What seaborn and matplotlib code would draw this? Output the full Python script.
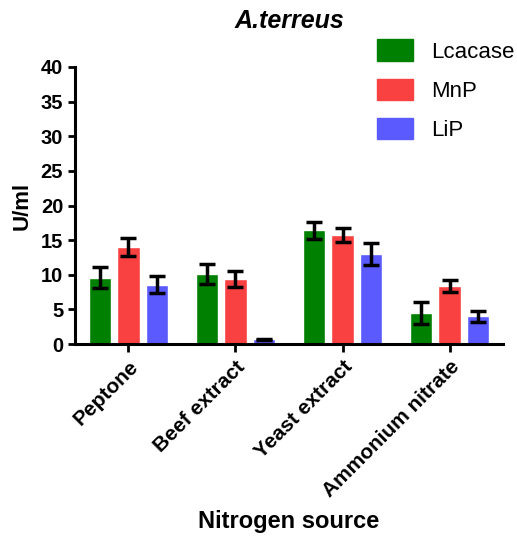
import numpy as np
import pandas as pd
import matplotlib
matplotlib.use("Agg")
import matplotlib.pyplot as plt
import seaborn as sns

# values
sources = ["Peptone", "Beef extract", "Yeast extract", "Ammonium nitrate"]
enzymes = ["Lcacase", "MnP", "LiP"]
lcacase = [9.6, 10.1, 16.4, 4.5]
mnp = [14.0, 9.4, 15.7, 8.4]
lip = [8.6, 0.7, 13.0, 4.0]
lcacase_err = [1.5, 1.4, 1.2, 1.6]
mnp_err = [1.3, 1.2, 1.0, 0.9]
lip_err = [1.2, 0.1, 1.6, 0.8]

colors = ["#008000", "#FA4141", "#5A5AFF"]

df = pd.DataFrame({
    "source": sources * 3,
    "enzyme": [e for e in enzymes for _ in sources],
    "value": lcacase + mnp + lip,
    "err": lcacase_err + mnp_err + lip_err,
})

sns.set_style("ticks")
plt.rcParams["font.family"] = ["Liberation Sans", "DejaVu Sans"]
plt.rcParams["text.color"] = "black"
plt.rcParams["axes.labelcolor"] = "black"
plt.rcParams["xtick.color"] = "black"
plt.rcParams["ytick.color"] = "black"

fig = plt.figure(figsize=(5.17, 5.36), dpi=100)
ax = fig.add_axes([0.145, 0.358, 0.828, 0.517])

sns.barplot(
    data=df, x="source", y="value", hue="enzyme",
    order=sources, hue_order=enzymes, palette=colors,
    errorbar=None, gap=0.2, ax=ax, legend=False,
    saturation=1,
)

# error bars placed on top of the bar centres
for patch, (_, row) in zip(ax.patches, df.iterrows()):
    x = patch.get_x() + patch.get_width() / 2
    ax.errorbar(x, row["value"], yerr=row["err"], fmt="none",
                ecolor="black", elinewidth=2.5, capsize=6, capthick=2.5, zorder=5)

ax.set_ylim(0, 40)
ax.set_xlim(-0.5, 3.5)
ax.set_yticks(np.arange(0, 41, 5))
ax.set_yticklabels([str(v) for v in range(0, 41, 5)], fontsize=14.5, fontweight="bold")
ax.set_xticks(range(len(sources)))
ax.set_xticklabels(sources, rotation=45, ha="right", rotation_mode="anchor",
                   fontsize=15, fontweight="bold")
ax.tick_params(axis="both", width=2, length=5, color="black")
ax.tick_params(axis="x", length=6)
for s in ["left", "bottom"]:
    ax.spines[s].set_linewidth(2.2)
    ax.spines[s].set_color("black")
sns.despine(ax=ax)

ax.set_xlabel("Nitrogen source", fontsize=17, fontweight="bold", labelpad=6)
ax.set_ylabel("U/ml", fontsize=16, fontweight="bold", labelpad=6)
ax.set_title("A.terreus", fontsize=18, fontweight="bold", style="italic", pad=28)

handles = [plt.Rectangle((0, 0), 1, 1, color=c) for c in colors]
fig.legend(handles, enzymes, loc="upper left", bbox_to_anchor=(0.72, 0.935),
           frameon=False, fontsize=16, handlelength=1.65, handleheight=1.1,
           labelspacing=0.72, handletextpad=0.8, borderpad=0.2, borderaxespad=0)

fig.savefig("out.png", dpi=100)
